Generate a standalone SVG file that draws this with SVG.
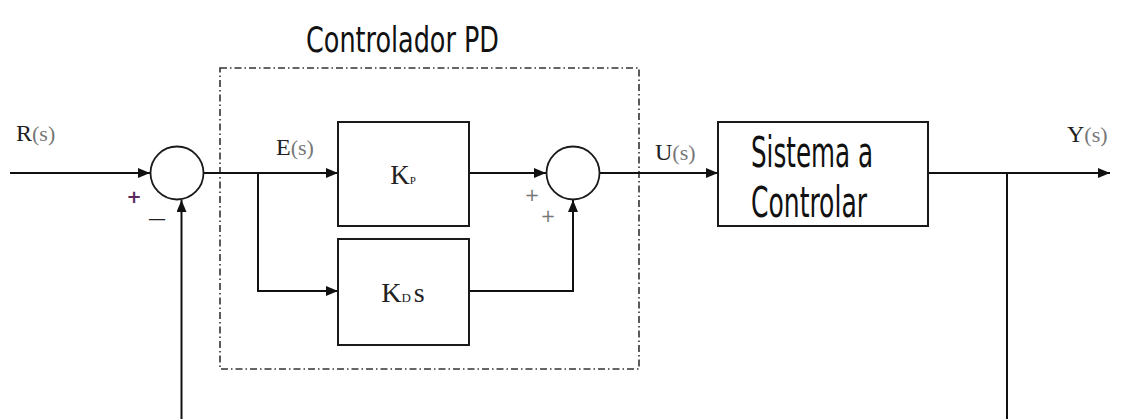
<svg xmlns="http://www.w3.org/2000/svg" width="1121" height="419" viewBox="0 0 1121 419">
<style>
.ln{stroke:#111;stroke-width:2;fill:none}
.box{fill:#fff;stroke:#1a1a1a;stroke-width:2}
.sum{fill:#fff;stroke:#1a1a1a;stroke-width:1.8}
.sig{font-family:"Liberation Serif",serif;font-size:24px;fill:#222}
.par{fill:#777;font-size:22px}
.cond{font-family:"DejaVu Sans Condensed","DejaVu Sans",sans-serif;fill:#111}
.gain{font-family:"Liberation Serif",serif;fill:#222}
.pl{font-family:"DejaVu Sans",sans-serif;font-size:18px}
.dash{fill:none;stroke:#333;stroke-width:1.6;stroke-dasharray:7 3 1.5 3}
</style>
<defs>
<marker id="ah" viewBox="0 0 12 10" refX="12" refY="5" markerWidth="12" markerHeight="10" markerUnits="userSpaceOnUse" orient="auto">
<path d="M0,0 L12,5 L0,10 z" fill="#111"/>
</marker>
</defs>
<rect width="1121" height="419" fill="#fff"/>

<g id="pd-controller">
<rect class="dash" x="220" y="68" width="419" height="301"/>
<text class="cond" x="306" y="52" font-size="36" textLength="193" lengthAdjust="spacingAndGlyphs">Controlador PD</text>
</g>

<g id="connectors">
<path class="ln" d="M10,173 H150" marker-end="url(#ah)"/>
<path class="ln" d="M204,173 H338" marker-end="url(#ah)"/>
<path class="ln" d="M258,173 V291 H338" marker-end="url(#ah)"/>
<path class="ln" d="M469,173 H546" marker-end="url(#ah)"/>
<path class="ln" d="M469,291 H573 V200" marker-end="url(#ah)"/>
<path class="ln" d="M600,173 H718" marker-end="url(#ah)"/>
<path class="ln" d="M928,173 H1110" marker-end="url(#ah)"/>
<path class="ln" d="M1007,173 V419"/>
<path class="ln" d="M181.5,419 V200" marker-end="url(#ah)"/>
</g>

<g id="sum1">
<circle class="sum" cx="177" cy="173" r="26.5"/>
<text class="pl" x="134" y="203" text-anchor="middle" fill="#5a2a5a" font-weight="bold">+</text>
<text class="pl" x="157" y="224" text-anchor="middle" fill="#222">—</text>
</g>

<g id="kp">
<rect class="box" x="338" y="122" width="131" height="104"/>
<text class="gain" x="403" y="184" text-anchor="middle" font-size="27">K<tspan font-size="11">P</tspan></text>
</g>

<g id="kd">
<rect class="box" x="338" y="239" width="131" height="106"/>
<text class="gain" x="403" y="302" text-anchor="middle" font-size="28">K<tspan font-size="13">D</tspan><tspan dx="3">s</tspan></text>
</g>

<g id="sum2">
<circle class="sum" cx="573" cy="173" r="26.5"/>
<text class="pl" x="532" y="201" text-anchor="middle" fill="#777">+</text>
<text class="pl" x="548" y="222" text-anchor="middle" fill="#777">+</text>
</g>

<g id="plant">
<rect class="box" x="718" y="122" width="210" height="104"/>
<text class="cond" x="751" y="167" font-size="42" textLength="122" lengthAdjust="spacingAndGlyphs">Sistema a</text>
<text class="cond" x="751" y="217" font-size="42" textLength="116" lengthAdjust="spacingAndGlyphs">Controlar</text>
</g>

<g id="labels">
<text class="sig" x="16" y="141">R<tspan class="par">(s)</tspan></text>
<text class="sig" x="276" y="155">E<tspan class="par">(s)</tspan></text>
<text class="sig" x="655" y="160">U<tspan class="par">(s)</tspan></text>
<text class="sig" x="1067" y="142">Y<tspan class="par">(s)</tspan></text>
</g>
</svg>
